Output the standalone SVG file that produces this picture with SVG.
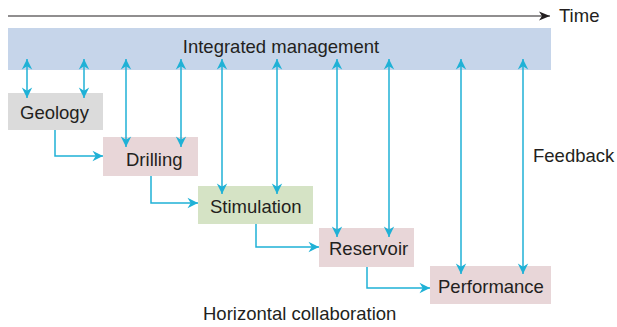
<svg xmlns="http://www.w3.org/2000/svg" width="617" height="327" viewBox="0 0 617 327">
  <defs>
    <marker id="ah" viewBox="-12 -6 14 12" refX="0" refY="0" markerWidth="14" markerHeight="12" markerUnits="userSpaceOnUse" orient="auto-start-reverse">
      <path d="M0,0 L-10.5,-5.2 L-7.3,0 L-10.5,5.2 Z" fill="#1fb1d6"/>
    </marker>
    <marker id="ahk" viewBox="-12 -6 14 12" refX="0" refY="0" markerWidth="14" markerHeight="12" markerUnits="userSpaceOnUse" orient="auto">
      <path d="M0,0 L-11,-4.5 L-8,0 L-11,4.5 Z" fill="#231f20"/>
    </marker>
  </defs>
  <style>
    text { font-family: "Liberation Sans", Arial, sans-serif; font-size: 18.5px; fill: #231f20; }
    .c { fill: none; stroke: #1fb1d6; stroke-width: 1.5; }
    .fb { marker-start: url(#ah); marker-end: url(#ah); }
    .fw { marker-end: url(#ah); }
    .pink { fill: #e8d6d8; }
  </style>
  <rect width="617" height="327" fill="#ffffff"/>

  <!-- time axis -->
  <g id="time">
    <line x1="8" y1="16" x2="550" y2="16" stroke="#231f20" stroke-width="1.2" marker-end="url(#ahk)"/>
    <text x="559" y="22">Time</text>
  </g>

  <g id="management">
    <rect x="8" y="28" width="543" height="42" fill="#c6d5ea"/>
    <text x="281" y="53" text-anchor="middle">Integrated management</text>
  </g>

  <g id="geology">
    <rect x="8" y="93" width="95" height="37" fill="#dbdbdb"/>
    <text x="20" y="119">Geology</text>
  </g>
  <g id="drilling">
    <rect class="pink" x="103" y="137" width="95" height="39"/>
    <text x="126" y="166">Drilling</text>
  </g>
  <g id="stimulation">
    <rect x="198" y="186" width="115" height="38" fill="#d5e3c5"/>
    <text x="210" y="213">Stimulation</text>
  </g>
  <g id="reservoir">
    <rect class="pink" x="319" y="228" width="95" height="39"/>
    <text x="329" y="255">Reservoir</text>
  </g>
  <g id="performance">
    <rect class="pink" x="430" y="266" width="121" height="38"/>
    <text x="438" y="293">Performance</text>
  </g>

  <g id="labels">
    <text x="533" y="162">Feedback</text>
    <text x="203" y="320">Horizontal collaboration</text>
  </g>

  <g id="connectors">
    <!-- feedback links between management and each stage -->
    <line class="c fb" x1="27" y1="59" x2="27" y2="98"/>
    <line class="c fb" x1="84" y1="59" x2="84" y2="98"/>
    <line class="c fb" x1="126" y1="59" x2="126" y2="147"/>
    <line class="c fb" x1="181" y1="59" x2="181" y2="147"/>
    <line class="c fb" x1="222" y1="59" x2="222" y2="194"/>
    <line class="c fb" x1="277" y1="59" x2="277" y2="194"/>
    <line class="c fb" x1="337" y1="59" x2="337" y2="237"/>
    <line class="c fb" x1="389" y1="59" x2="389" y2="237"/>
    <line class="c fb" x1="461" y1="59" x2="461" y2="274"/>
    <line class="c fb" x1="523" y1="59" x2="523" y2="274"/>
    <!-- stage-to-stage flow -->
    <polyline class="c fw" points="55,130 55,156 103,156"/>
    <polyline class="c fw" points="151,176 151,203 198,203"/>
    <polyline class="c fw" points="256,224 256,247 319,247"/>
    <polyline class="c fw" points="367,267 367,288 430,288"/>
  </g>
</svg>
